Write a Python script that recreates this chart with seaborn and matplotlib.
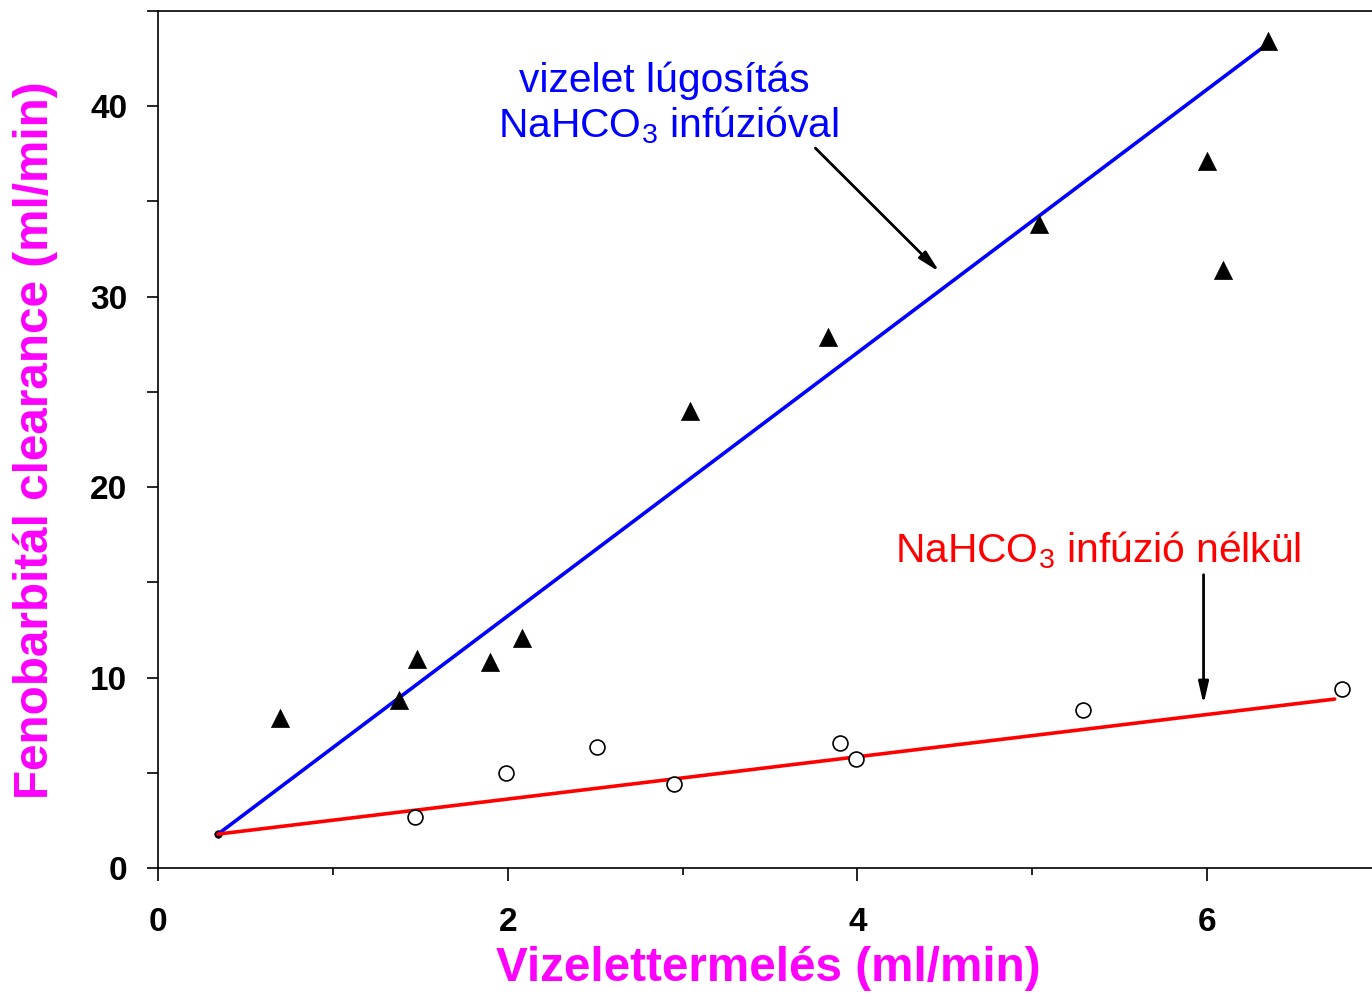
import matplotlib
matplotlib.use("Agg")
import matplotlib.pyplot as plt
import numpy as np
import pandas as pd
import seaborn as sns
from matplotlib.ticker import MultipleLocator

# with NaHCO3 infusion (triangles)
alk_x = [0.70, 1.38, 1.48, 1.90, 2.08, 3.04, 3.83, 5.04, 6.00, 6.09, 6.35]
alk_y = [7.9, 8.8, 11.0, 10.8, 12.1, 24.0, 27.9, 33.8, 37.1, 31.4, 43.4]

# without infusion (open circles)
ctrl_x = [1.47, 1.99, 2.51, 2.95, 3.90, 3.99, 5.29, 6.77]
ctrl_y = [2.7, 5.0, 6.35, 4.4, 6.55, 5.7, 8.3, 9.4]

# common starting point of both regression lines
start_x = [0.343]
start_y = [1.78]

# regression line end points
alk_fit_x = [0.343, 6.35]
alk_fit_y = [1.78, 43.3]
ctrl_fit_x = [0.343, 6.73]
ctrl_fit_y = [1.78, 8.87]

sns.set_style("ticks")
plt.rcParams["font.family"] = ["Liberation Sans", "DejaVu Sans"]
plt.rcParams["mathtext.fontset"] = "custom"
plt.rcParams["mathtext.rm"] = "Liberation Sans"
plt.rcParams["mathtext.it"] = "Liberation Sans:italic"
plt.rcParams["mathtext.bf"] = "Liberation Sans:bold"

fig = plt.figure(figsize=(13.72, 9.93), dpi=100)
ax = fig.add_axes([0.1152, 0.1259, 0.8920, 0.8630])

sns.lineplot(x=alk_fit_x, y=alk_fit_y, color="#0000ff", lw=2.6, ax=ax, zorder=2)
sns.lineplot(x=ctrl_fit_x, y=ctrl_fit_y, color="#ff0000", lw=2.6, ax=ax, zorder=2)

sns.scatterplot(x=alk_x, y=alk_y, marker="^", s=170, color="black",
                edgecolor="black", linewidth=0.5, ax=ax, zorder=3)
sns.scatterplot(x=ctrl_x, y=ctrl_y, marker="o", s=115, facecolor="white",
                edgecolor="black", linewidth=1.2, ax=ax, zorder=3)
sns.scatterplot(x=start_x, y=start_y, marker="o", s=30, color="black",
                edgecolor="black", ax=ax, zorder=1)

ax.set_xlim(0, 7)
ax.set_ylim(0, 45)
ax.xaxis.set_major_locator(MultipleLocator(2))
ax.xaxis.set_minor_locator(MultipleLocator(1))
ax.yaxis.set_major_locator(MultipleLocator(10))
ax.yaxis.set_minor_locator(MultipleLocator(5))

for side in ["left", "bottom", "top"]:
    ax.spines[side].set_linewidth(1.2)
    ax.spines[side].set_color("black")
ax.spines["right"].set_visible(False)

ax.tick_params(axis="x", which="major", direction="out", length=9, width=1.2,
               labelsize=24, pad=19, colors="black")
ax.tick_params(axis="x", which="minor", direction="out", length=5, width=1.2,
               colors="black")
ax.tick_params(axis="y", which="both", direction="out", length=8, width=1.2,
               labelsize=24, pad=14, colors="black")
for lab in ax.get_xticklabels() + ax.get_yticklabels():
    lab.set_fontweight("bold")

ax.set_xlabel("Vizelettermelés (ml/min)", fontsize=34.3, fontweight="bold",
              color="#ff00ff", va="center")
ax.xaxis.set_label_coords(0.499, -0.117)
ax.set_ylabel("Fenobarbitál clearance (ml/min)", fontsize=34.3, fontweight="bold",
              color="#ff00ff", va="center")
ax.yaxis.set_label_coords(-0.1005, 0.4994)

ax.text(2.894, 40.73, "vizelet lúgosítás", color="#0000ff", fontsize=29.3,
        ha="center", va="baseline")
ax.text(2.916, 38.37, "NaHCO$_3$ infúzióval", color="#0000ff", fontsize=29.3,
        ha="center", va="baseline")
ax.text(5.377, 16.03, "NaHCO$_3$ infúzió nélkül", color="#ff0000", fontsize=29.3,
        ha="center", va="baseline")

arrow = dict(arrowstyle="-|>,head_length=1.3,head_width=0.3", color="black",
             lw=2, shrinkA=0, shrinkB=0)
ax.annotate("", xy=(4.47, 31.3), xytext=(3.76, 37.8), arrowprops=arrow)
ax.annotate("", xy=(5.98, 8.6), xytext=(5.98, 15.4), arrowprops=arrow)

fig.savefig("out.png", dpi=100)
